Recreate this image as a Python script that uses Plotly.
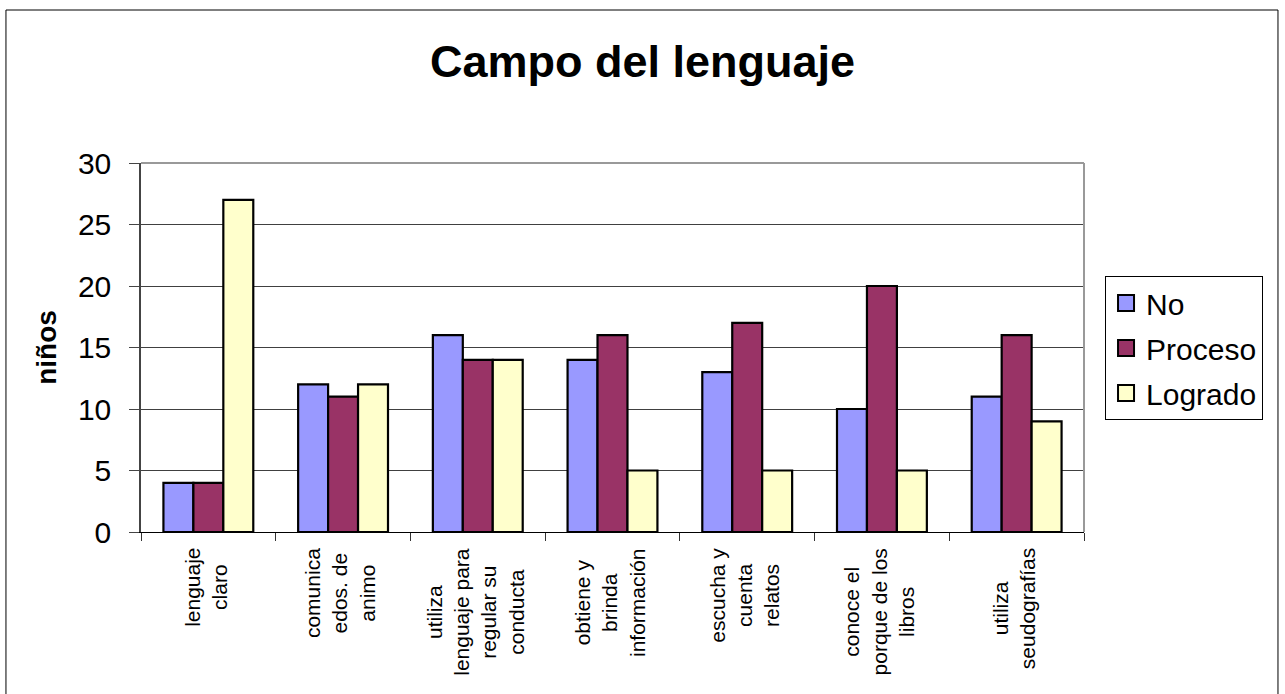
import plotly.graph_objects as go

categories = [
    "lenguaje<br>claro",
    "comunica<br>edos. de<br>animo",
    "utiliza<br>lenguaje para<br>regular su<br>conducta",
    "obtiene y<br>brinda<br>información",
    "escucha y<br>cuenta<br>relatos",
    "conoce el<br>porque de los<br>libros",
    "utiliza<br>seudografías",
]
no_values = [4, 12, 16, 14, 13, 10, 11]
proceso_values = [4, 11, 14, 16, 17, 20, 16]
logrado_values = [27, 12, 14, 5, 5, 5, 9]

series = [
    ("No", no_values, "#9999FF"),
    ("Proceso", proceso_values, "#993366"),
    ("Logrado", logrado_values, "#FFFFCC"),
]

FONT = "Liberation Sans, Arial, sans-serif"

fig = go.Figure()
for name, values, color in series:
    fig.add_trace(
        go.Bar(
            x=categories,
            y=values,
            name=name,
            showlegend=False,
            marker={"color": color, "line": {"color": "black", "width": 2.2}},
        )
    )
# legend-only entries, so the swatches can be larger than the bar icon
for name, _, color in series:
    fig.add_trace(
        go.Scatter(
            x=[None],
            y=[None],
            name=name,
            legendgroup=name,
            mode="markers",
            marker={
                "symbol": "square",
                "size": 16,
                "color": color,
                "line": {"color": "black", "width": 2},
            },
        )
    )

fig.update_layout(
    width=1285,
    height=694,
    paper_bgcolor="white",
    plot_bgcolor="white",
    barmode="group",
    bargap=0.333,
    bargroupgap=0,
    margin={"l": 141, "r": 201, "t": 163, "b": 162, "autoexpand": False},
    font={"family": FONT, "color": "black"},
    title={
        "text": "<b>Campo del lenguaje</b>",
        "font": {"size": 45, "family": FONT},
        "x": 0.5,
        "xanchor": "center",
        "y": 0.912,
        "yanchor": "middle",
    },
    legend={
        "x": 1.0223,
        "y": 0.6938,
        "xanchor": "left",
        "yanchor": "top",
        "font": {"size": 30},
        "bordercolor": "black",
        "borderwidth": 1,
        "tracegroupgap": 3,
        "traceorder": "grouped",
        "itemwidth": 30,
    },
    showlegend=True,
)

fig.update_xaxes(
    type="category",
    showticklabels=False,
    tickson="boundaries",
    ticks="outside",
    ticklen=8,
    tickcolor="#333333",
    showline=True,
    linecolor="black",
    linewidth=1,
    showgrid=False,
)
fig.update_yaxes(
    range=[0, 30],
    dtick=5,
    tickfont={"size": 30},
    ticks="outside",
    ticklen=10,
    tickcolor="#444444",
    ticklabelstandoff=12,
    showline=True,
    linecolor="#444444",
    linewidth=1.5,
    showgrid=True,
    gridcolor="#404040",
    gridwidth=1,
    zeroline=False,
    title={"text": "<b>niños</b>", "font": {"size": 28}, "standoff": 13},
)

# category labels, rotated with centred lines as in the original
for label in categories:
    fig.add_annotation(
        x=label, y=0, xref="x", yref="y",
        text=label, textangle=-90, align="center",
        xanchor="center", yanchor="top", yshift=-14, xshift=-3,
        showarrow=False, font={"size": 21},
    )

# plot-area frame (top and right edges, grey as in the original)
fig.add_shape(type="line", xref="x domain", yref="y domain",
              x0=0, x1=1, y0=1, y1=1, line={"color": "#999999", "width": 2})
fig.add_shape(type="line", xref="x domain", yref="y domain",
              x0=1, x1=1, y0=0, y1=1, line={"color": "#999999", "width": 2})
# outer chart border
fig.add_shape(type="rect", xref="paper", yref="paper",
              x0=-0.1432, x1=1.2057, y0=-0.6, y1=1.4146,
              line={"color": "black", "width": 1})

fig.write_html(
    "out.html",
    config={"displayModeBar": False},
    post_script="document.body.style.margin='0';document.body.style.overflow='hidden';",
)
